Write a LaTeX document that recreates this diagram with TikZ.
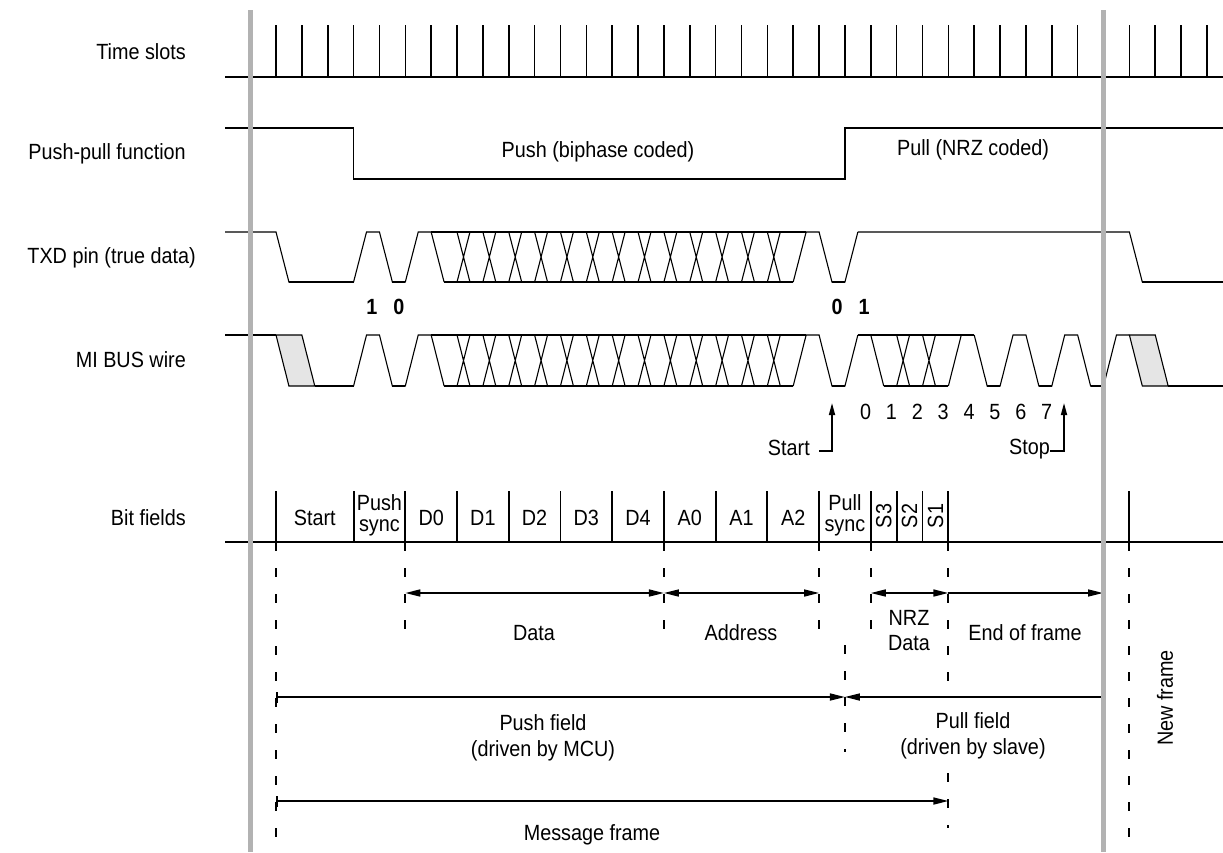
\documentclass[tikz,border=0pt]{standalone}
\usepackage{fontspec}
\setmainfont{Liberation Sans}[FakeStretch=0.9]
\usetikzlibrary{arrows.meta}
\newcommand\lblfont{\fontsize{22}{21}\selectfont}
\newcommand\pushpart[2]{%
  \draw[wv] ({xk(3)},#2) -- ({xk(3.5)},#1) -- ({xk(4)},#1) -- ({xk(4.5)},#2) -- ({xk(5)},#2) -- ({xk(5.5)},#1) -- ({xk(6)},#1) -- ({xk(6.5)},#2);
  \draw[lw] ({xk(4.5)},#2) -- ({xk(5)},#2);
  \draw[bw] ({xk(6)},#1) -- ({xk(20.5)},#1);
  \draw[bw] ({xk(6.5)},#2) -- ({xk(20)},#2);
  \foreach \k in {7,...,19} \draw[wv] ({xk(\k)},#1) -- ({xk(\k+.5)},#2) ({xk(\k)},#2) -- ({xk(\k+.5)},#1);
  \draw[wv] ({xk(20)},#2) -- ({xk(20.5)},#1) -- ({xk(21)},#1) -- ({xk(21.5)},#2) -- ({xk(22)},#2) -- ({xk(22.5)},#1);
  \draw[lw] ({xk(21.5)},#2) -- ({xk(22)},#2);
}
\begin{document}
\begin{tikzpicture}[x=1pt,y=-1pt,
  declare function={xk(\k)=276+25.86*\k;},
  every node/.style={font=\lblfont, inner sep=0pt},
  wv/.style={line width=1.1pt, line join=miter},
  lw/.style={line width=1.8pt},
  bw/.style={line width=1.8pt},
  fld/.style={line width=1.9pt},
  dsh/.style={line width=1.9pt, dash pattern=on 9pt off 17pt},
  ar/.style={line width=1.6pt},
  tri/.tip={Triangle[length=15pt,width=7pt]},
  brr/.tip={Bar[width=11pt,line width=1.6pt]},
  lab/.style={anchor=east},
  two/.style={align=center, font=\fontsize{22}{26}\selectfont},
  bitlab/.style={font=\bfseries\lblfont},
  grayln/.style={fill=black!30}
]
\useasboundingbox (0,0) rectangle (1223,852);

% ---------- left labels
\node[lab] (l1) at (186,52) {Time slots};
\node[lab] (l2) at (186,154) {Push-pull function};
\node[lab] (l3) at (196,258) {TXD pin (true data)};
\node[lab] (l4) at (186,360) {MI BUS wire};
\node[lab] (l5) at (186,518) {Bit fields};

% ---------- time slots
\draw[line width=1.9pt] (225,77) -- (1223,77);
\foreach \k in {0,...,36} \draw[line width=1.6pt] ({xk(\k)},25) -- ({xk(\k)},77);

% ---------- push-pull function
\draw[line width=1.6pt] (225,128) -- ({xk(3)},128) -- ({xk(3)},179) -- ({xk(22)},179) -- ({xk(22)},128) -- (1223,128);
\node (push) at (598,152) {Push (biphase coded)};
\node (pull) at (973,150) {Pull (NRZ coded)};

% ---------- TXD pin
\draw[wv] (225,232) -- ({xk(0)},232) -- ({xk(.5)},282) -- ({xk(3)},282);
\draw[lw] ({xk(.5)},282) -- ({xk(3)},282);
\pushpart{232}{282}
\draw[wv] ({xk(22.5)},232) -- ({xk(33)},232) -- ({xk(33.5)},282) -- (1223,282);
\draw[lw] ({xk(33.5)},282) -- (1223,282);
\node[bitlab] (b1) at (372,307) {1};
\node[bitlab] (b2) at (399,307) {0};
\node[bitlab] (b3) at (837,307) {0};
\node[bitlab] (b4) at (864,307) {1};

% ---------- MI BUS wire
\filldraw[wv, fill=black!10] ({xk(0)},335) -- ({xk(1)},335) -- ({xk(1.5)},386) -- ({xk(.5)},386) -- cycle;
\draw[wv] (225,335) -- ({xk(0)},335);
\draw[lw] ({xk(1.5)},386) -- ({xk(3)},386);
\pushpart{335}{386}
% NRZ data part
\draw[bw] ({xk(22.5)},335) -- ({xk(27)},335);
\draw[wv] ({xk(23)},335) -- ({xk(23.5)},386);
\draw[bw] ({xk(23.5)},386) -- ({xk(26)},386);
\foreach \k in {24,25} \draw[wv] ({xk(\k)},335) -- ({xk(\k+.5)},386) ({xk(\k)},386) -- ({xk(\k+.5)},335);
\draw[wv] ({xk(26)},386) -- ({xk(26.5)},335);
\draw[wv] ({xk(27)},335) -- ({xk(27.5)},386) -- ({xk(28)},386) -- ({xk(28.5)},335) -- ({xk(29)},335) -- ({xk(29.5)},386) -- ({xk(30)},386) -- ({xk(30.5)},335) -- ({xk(31)},335) -- ({xk(31.5)},386) -- ({xk(32)},386) -- ({xk(32.5)},335) -- ({xk(33)},335);
\draw[lw] ({xk(27.5)},386) -- ({xk(28)},386) ({xk(29.5)},386) -- ({xk(30)},386) ({xk(31.5)},386) -- ({xk(32)},386);
\filldraw[wv, fill=black!10] ({xk(33)},335) -- ({xk(34)},335) -- ({xk(34.5)},386) -- ({xk(33.5)},386) -- cycle;
\draw[lw] ({xk(34.5)},386) -- (1223,386);
\foreach \i in {0,...,7} \node (d\i) at ({xk(22.8+\i)},412) {\i};

% start / stop markers
\coordinate (sta) at (832,451);
\coordinate (stt) at (832,403);
\coordinate (stl) at (819,451);
\draw[ar, -{Triangle[length=12pt,width=6pt]}] (stl) -- (sta) -- (stt);
\node[anchor=east] (start) at (810,448) {Start};
\coordinate (spa) at (1064,451);
\coordinate (spt) at (1064,403);
\coordinate (spl) at (1050,451);
\draw[ar, -{Triangle[length=12pt,width=6pt]}] (spl) -- (spa) -- (spt);
\node[anchor=east] (stop) at (1050,449) {Stop};

% ---------- bit fields
\draw[fld] (225,542) -- (1223,542);
\foreach \k in {0,3,5,7,9,11,13,15,17,19,21,23,24,25,26,33} \draw[fld] ({xk(\k)},491) -- ({xk(\k)},542);
\node (f1) at ({xk(1.5)},518) {Start};
\node[align=center] (f2) at ({xk(4)},515) {Push\\sync};
\node (f3) at ({xk(6)},518) {D0};
\node (f4) at ({xk(8)},518) {D1};
\node (f5) at ({xk(10)},518) {D2};
\node (f6) at ({xk(12)},518) {D3};
\node (f7) at ({xk(14)},518) {D4};
\node (f8) at ({xk(16)},518) {A0};
\node (f9) at ({xk(18)},518) {A1};
\node (f10) at ({xk(20)},518) {A2};
\node[align=center] (f11) at ({xk(22)},515) {Pull\\sync};
\node[rotate=90] (f12) at ({xk(23.5)},516) {S3};
\node[rotate=90] (f13) at ({xk(24.5)},516) {S2};
\node[rotate=90] (f14) at ({xk(25.5)},516) {S1};

% ---------- dashed guide lines
\coordinate (g0t) at ({xk(0)},542);  \coordinate (g0b) at ({xk(0)},852);
\coordinate (g5t) at ({xk(5)},542);  \coordinate (g5b) at ({xk(5)},645);
\coordinate (g15t) at ({xk(15)},542); \coordinate (g15b) at ({xk(15)},645);
\coordinate (g21t) at ({xk(21)},542); \coordinate (g21b) at ({xk(21)},645);
\coordinate (g22t) at ({xk(22)},645); \coordinate (g22b) at ({xk(22)},752);
\coordinate (g23t) at ({xk(23)},542); \coordinate (g23b) at ({xk(23)},645);
\coordinate (g26t) at ({xk(26)},542); \coordinate (g26m) at ({xk(26)},697);
\coordinate (g26n) at ({xk(26)},773); \coordinate (g26b) at ({xk(26)},828);
\coordinate (g33t) at ({xk(33)},542); \coordinate (g33b) at ({xk(33)},852);
\draw[dsh] (g0t) -- (g0b);
\draw[dsh] (g5t) -- (g5b);
\draw[dsh] (g15t) -- (g15b);
\draw[dsh] (g21t) -- (g21b);
\draw[dsh] (g22t) -- (g22b);
\draw[dsh] (g23t) -- (g23b);
\draw[dsh] (g26t) -- (g26m);
\draw[dsh] (g26n) -- (g26b);
\draw[dsh] (g33t) -- (g33b);

% ---------- span arrows
\coordinate (a1) at ({xk(5)},593);
\coordinate (a2) at ({xk(15)},593);
\coordinate (a3) at ({xk(21)},593);
\coordinate (a4) at ({xk(23)},593);
\coordinate (a5) at ({xk(26)},593);
\coordinate (a6) at (1103,593);
\draw[ar, tri-tri] (a1) -- (a2);
\draw[ar, tri-tri] (a2) -- (a3);
\draw[ar, tri-tri] (a4) -- (a5);
\draw[ar, -tri] (a5) -- (a6);
\node (t1) at (534,633) {Data};
\node (t2) at (741,633) {Address};
\node[align=center, font=\fontsize{22}{25}\selectfont] (t3) at (909,631) {NRZ\\Data};
\node (t4) at (1025,633) {End of frame};

\coordinate (p1) at ({xk(0)},697);
\coordinate (p2) at ({xk(22)},697);
\coordinate (p3) at (1103,697);
\draw[ar, brr-tri] (p1) -- (p2);
\draw[ar, tri-] (p2) -- (p3);
\node[two] (t5) at (543,738) {Push field\\(driven by MCU)};
\node[two] (t6) at (973,736) {Pull field\\(driven by slave)};

\coordinate (m1) at ({xk(0)},801);
\coordinate (m2) at ({xk(26)},801);
\draw[ar, brr-tri] (m1) -- (m2);
\node (t7) at (592,835) {Message frame};
\node[rotate=90] (t8) at (1165,698) {New frame};

% ---------- gray frame markers
\fill[grayln] (247.5,10) rectangle (253,852);
\fill[grayln] (1100.5,10) rectangle (1106,852);
\end{tikzpicture}
\end{document}
